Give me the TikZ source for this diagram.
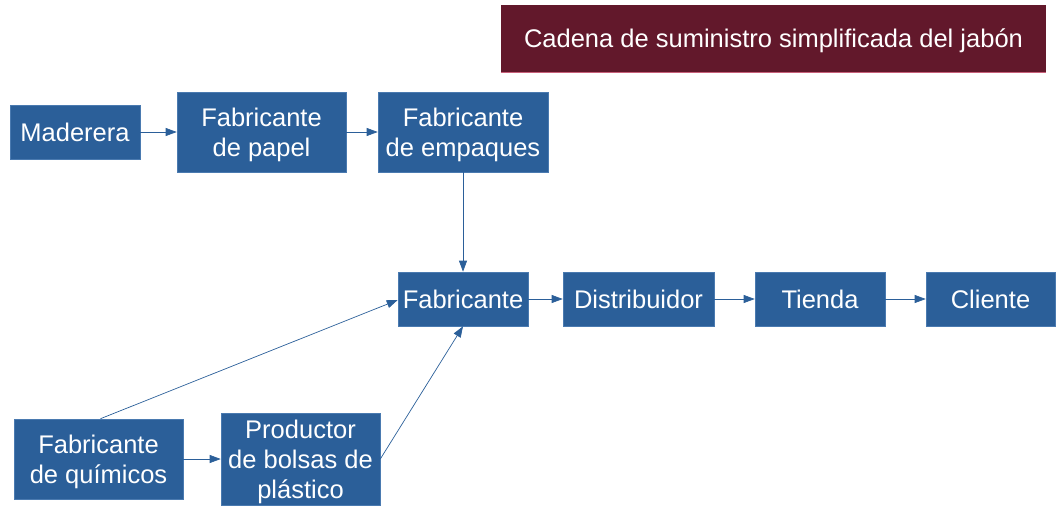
\documentclass[tikz,border=0pt]{standalone}
\usepackage{fontspec}
\setmainfont{Liberation Sans}
\usetikzlibrary{arrows.meta}
\definecolor{boxblue}{HTML}{2B5F99}
\definecolor{edgeblue}{HTML}{4A7AB0}
\definecolor{wine}{HTML}{62182B}
\definecolor{winepink}{HTML}{C8607A}
\tikzset{
  box/.style={fill=boxblue, draw=edgeblue, line width=0.6pt, text=white, align=center, inner sep=0pt, font=\fontsize{25.5}{30}\selectfont},
  multi/.style={text depth=0pt},
  conn/.style={draw=boxblue, line width=0.7pt, -{Triangle[length=11pt,width=8pt]}},
}
\newcommand{\boxat}[7][]{\node[box, #1, minimum width=#5-#3, minimum height=#6-#4] (#2) at ({(#3+#5)/2},{-(#4+#6)/2}) {#7};}
\begin{document}
\begin{tikzpicture}[x=1pt,y=1pt]
\useasboundingbox (0,0) rectangle (1056,-511);
\node[fill=wine, text=white, inner sep=0pt, text depth=0pt, minimum width=545, minimum height=67, font=\fontsize{25.5}{30}\selectfont] (title) at (773.5,-38.5) {Cadena de suministro simplificada del jabón};
\draw[winepink, line width=1pt] (title.south west) -- (title.south east);
\boxat{mad}{10}{105}{140}{159}{Maderera}
\boxat[multi]{pap}{177}{92}{346}{172}{Fabricante\\de papel}
\boxat[multi]{emp}{378}{92}{548}{172}{Fabricante\\de empaques}
\boxat{fab}{398}{272}{528}{326}{Fabricante}
\boxat{dis}{563}{272}{714}{326}{Distribuidor}
\boxat{tie}{755}{272}{885}{326}{Tienda}
\boxat{cli}{926}{272}{1055}{326}{Cliente}
\boxat[multi]{qui}{14}{419}{183}{499}{Fabricante\\de químicos}
\boxat[multi]{bol}{221}{413}{380}{505}{Productor\\de bolsas de\\plástico}
\draw[conn] (mad) -- (pap);
\draw[conn] (pap) -- (emp);
\draw[conn] (emp.south) -- (fab.north);
\draw[conn] (fab) -- (dis);
\draw[conn] (dis) -- (tie);
\draw[conn] (tie) -- (cli);
\draw[conn] (qui) -- (bol);
\draw[conn] ([xshift=2pt]qui.north) -- ([yshift=-1pt]fab.west);
\draw[conn] (bol.east) -- (fab.south);
\end{tikzpicture}
\end{document}
